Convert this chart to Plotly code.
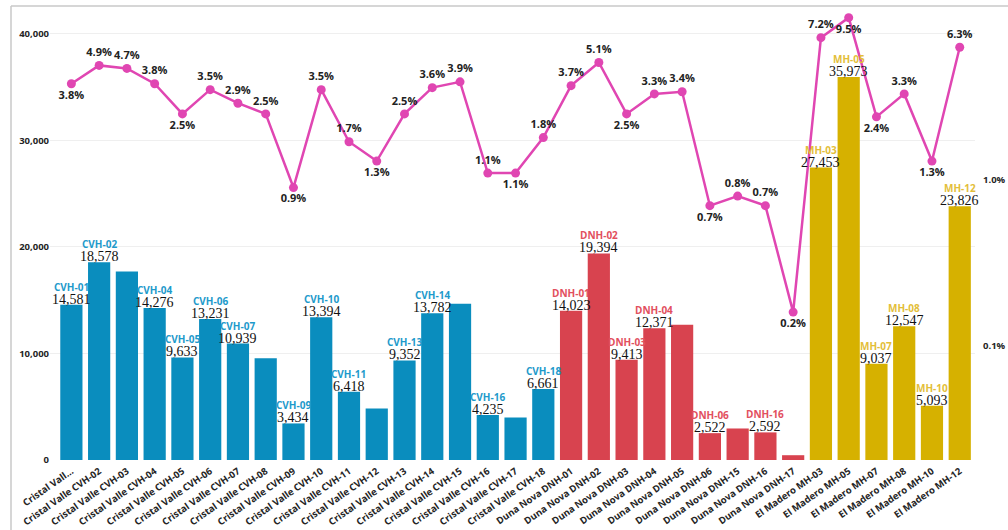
import plotly.graph_objects as go

# Sites and their volumes
categories = (
    [f"Cristal Valle CVH-{i:02d}" for i in range(1, 19)]
    + [f"Duna Nova DNH-{c}" for c in ["01", "02", "03", "04", "05", "06", "15", "16", "17"]]
    + [f"El Madero MH-{c}" for c in ["03", "05", "07", "08", "10", "12"]]
)
tick_labels = ["Cristal Vall..."] + categories[1:]
codes = [c.split(" ")[-1] for c in categories]
groups = ["CV"] * 18 + ["DN"] * 9 + ["MH"] * 6

volumes = [
    14581, 18578, 17700, 14276, 9633, 13231, 10939, 9550, 3434, 13394,
    6418, 4830, 9352, 13782, 14660, 4235, 4000, 6661,
    14023, 19394, 9413, 12371, 12700, 2522, 2960, 2592, 450,
    27453, 35973, 9037, 12547, 5093, 23826,
]
# which bars carry a code/value label
labelled = [
    1, 1, 0, 1, 1, 1, 1, 0, 1, 1, 1, 0, 1, 1, 0, 1, 0, 1,
    1, 1, 1, 1, 0, 1, 0, 1, 0,
    1, 1, 1, 1, 1, 1,
]
# share (percent)
share_pct = [
    3.8, 4.9, 4.7, 3.8, 2.5, 3.5, 2.9, 2.5, 0.9, 3.5,
    1.7, 1.3, 2.5, 3.6, 3.9, 1.1, 1.1, 1.8,
    3.7, 5.1, 2.5, 3.3, 3.4, 0.7, 0.8, 0.7, 0.16,
    7.2, 9.5, 2.4, 3.3, 1.3, 6.3,
]
share_label_pos = [
    "bottom", "top", "top", "top", "bottom", "top", "top", "top", "bottom", "top",
    "top", "bottom", "top", "top", "top", "top", "bottom", "top",
    "top", "top", "bottom", "top", "top", "bottom", "top", "top", "bottom",
    "top", "bottom", "bottom", "top", "bottom", "top",
]

bar_colors = {"CV": "#0A8DBE", "DN": "#D8434F", "MH": "#D6B100"}
code_colors = {"CV": "#1E9ACB", "DN": "#E2505E", "MH": "#E3BE3A"}
line_color = "#E046B2"

x = list(range(len(categories)))
share = [p / 100 for p in share_pct]

fig = go.Figure()
fig.add_trace(go.Bar(
    x=x, y=volumes,
    marker=dict(color=[bar_colors[g] for g in groups], line=dict(width=0)),
    hoverinfo="skip",
))
fig.add_trace(go.Scatter(
    x=x, y=share, yaxis="y2",
    mode="lines+markers+text",
    line=dict(color=line_color, width=2.5),
    marker=dict(color=line_color, size=9),
    text=[f"{v:.1%}" for v in share],
    textposition=[p + " center" for p in share_label_pos],
    textfont=dict(family="Open Sans", size=11, color="#222222", weight="bold"),
    cliponaxis=False,
))

annotations = []
for i, (v, c, g, lab) in enumerate(zip(volumes, codes, groups, labelled)):
    if not lab:
        continue
    annotations.append(dict(
        x=i, y=v, xref="x", yref="y", text=f"{v:,}", showarrow=False,
        yanchor="bottom", yshift=-4,
        font=dict(family="Liberation Serif", size=14, color="#111111"),
    ))
    annotations.append(dict(
        x=i, y=v, xref="x", yref="y", text=f"<b>{c}</b>", showarrow=False,
        yanchor="bottom", yshift=9,
        font=dict(family="Open Sans", size=10, color=code_colors[g]),
    ))

plot_l, plot_r, plot_t, plot_b = 50, 975, 8, 460
pw, ph = plot_r - plot_l, plot_b - plot_t

def px_to_paper_x(px):
    return (px - plot_l) / pw

def px_to_paper_y(py):
    return (plot_b - py) / ph

frame = dict(color="#C9C9C9", width=1.5)
shapes = [
    dict(type="line", xref="paper", yref="paper",
         x0=px_to_paper_x(11), x1=px_to_paper_x(11),
         y0=px_to_paper_y(6), y1=px_to_paper_y(530), line=frame),
    dict(type="line", xref="paper", yref="paper",
         x0=px_to_paper_x(11), x1=px_to_paper_x(1008),
         y0=px_to_paper_y(6), y1=px_to_paper_y(6), line=frame),
]

tick_font = dict(family="Open Sans", size=9.5, color="#252525", weight="bold")

fig.update_layout(
    width=1008, height=530,
    margin=dict(l=plot_l, r=1008 - plot_r, t=plot_t, b=530 - plot_b),
    paper_bgcolor="white", plot_bgcolor="white",
    showlegend=False, bargap=0.2,
    annotations=annotations, shapes=shapes,
    xaxis=dict(
        tickmode="array", tickvals=x, ticktext=tick_labels,
        tickangle=-35, tickfont=tick_font, range=[-0.77, 32.55],
        showgrid=False, zeroline=False, showline=False, ticks="",
        automargin=False, ticklabelstandoff=3,
    ),
    yaxis=dict(
        range=[0, 42440], tickvals=[0, 10000, 20000, 30000, 40000],
        tickformat=",d", tickfont=tick_font, automargin=False,
        showgrid=True, gridcolor="#EFEFEF", gridwidth=1,
        zeroline=False, showline=False,
    ),
    yaxis2=dict(
        type="log", overlaying="y", side="right", automargin=False,
        range=[-3.687, -0.964], tickvals=[0.001, 0.01],
        tickformat=".1%", tickfont=tick_font, ticklabelstandoff=7,
        showgrid=False, zeroline=False, showline=False,
    ),
)

fig.write_html("out.html")
